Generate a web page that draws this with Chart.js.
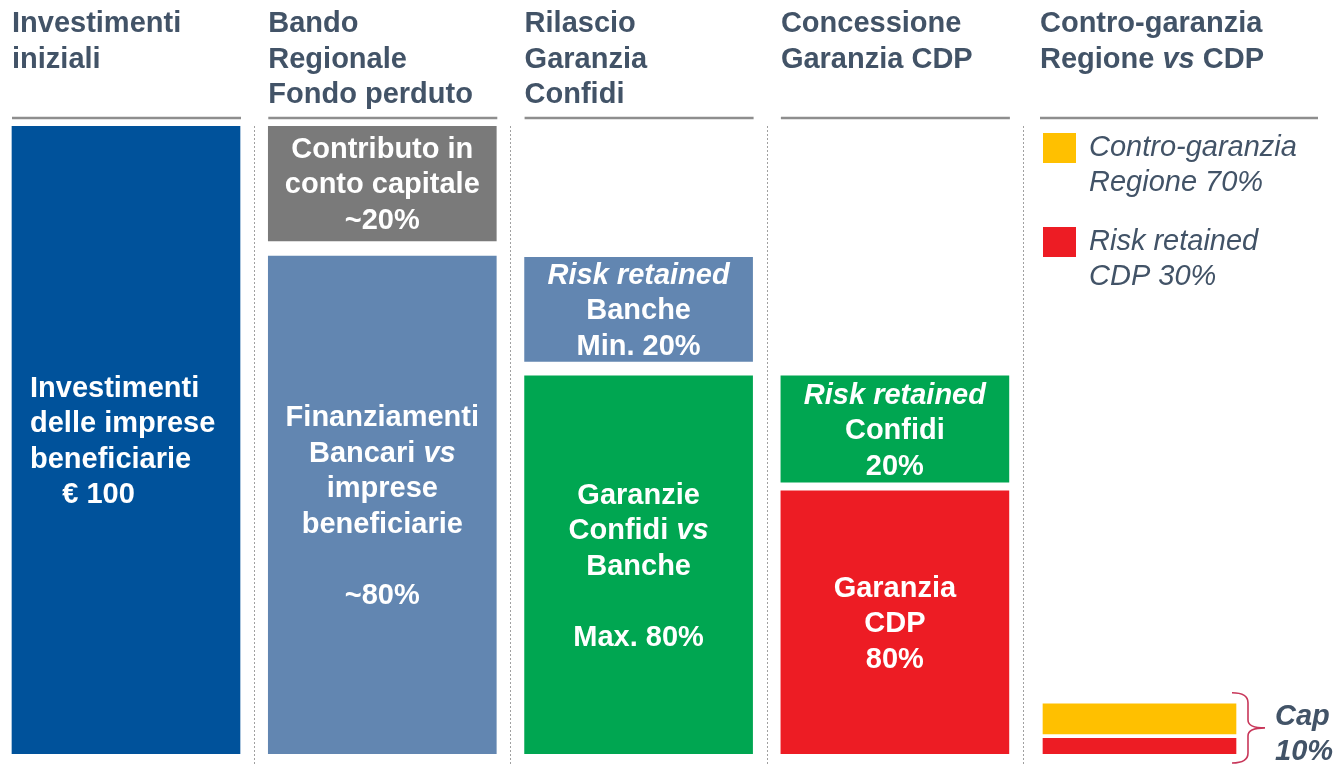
<!DOCTYPE html>
<html><head><meta charset="utf-8">
<script src="https://cdn.jsdelivr.net/npm/chart.js@4.4.1/dist/chart.umd.min.js"></script>
<style>html,body{margin:0;padding:0;background:#fff;overflow:hidden}#wrap{width:1337px;height:764px;position:relative}</style>
</head><body><div id="wrap"><canvas id="c" width="1337" height="764"></canvas></div>
<script>
// ---------- DATA ----------
const columnHeaders = [
  ['Investimenti', 'iniziali'],
  ['Bando', 'Regionale', 'Fondo perduto'],
  ['Rilascio', 'Garanzia', 'Confidi'],
  ['Concessione', 'Garanzia CDP'],
  ['Contro-garanzia', 'Regione *vs* CDP']
];
// floating bar ranges [from, to] on a 0-100 scale, per column index
const investimentiRange      = [0, 100];    // column 0
const contributoRange        = [81.7, 100]; // column 1
const finanziamentiRange     = [0, 79.3];   // column 1
const riskBancheRange        = [62.5, 79.1];// column 2
const garanzieConfidiRange   = [0, 60.2];   // column 2
const riskConfidiRange       = [43.3, 60.2];// column 3
const garanziaCdpRange       = [0, 41.9];   // column 3
const capRegioneRange        = [3.2, 8.0];  // column 4
const capCdpRange            = [0, 2.5];    // column 4

const investimentiText    = ['Investimenti', 'delle imprese', 'beneficiarie', '    € 100'];
const contributoText      = ['Contributo in', 'conto capitale', '~20%'];
const finanziamentiText   = ['Finanziamenti', 'Bancari *vs*', 'imprese', 'beneficiarie', '', '~80%'];
const riskBancheText      = ['*Risk retained*', 'Banche', 'Min. 20%'];
const garanzieConfidiText = ['Garanzie', 'Confidi *vs*', 'Banche', '', 'Max. 80%'];
const riskConfidiText     = ['*Risk retained*', 'Confidi', '20%'];
const garanziaCdpText     = ['Garanzia', 'CDP', '80%'];

const legendItems = [
  ['Contro-garanzia', 'Regione 70%'],
  ['Risk retained', 'CDP 30%']
];
const capText = ['Cap', '10%'];

// ---------- STYLE ----------
const FONT = '"Liberation Sans", Arial, sans-serif';
const TXT = '#425367';
const C_BLUE = '#00529B', C_LBLUE = '#6286B1', C_GREY = '#7A7A7A', C_GREEN = '#00A651', C_RED = '#ED1C24', C_YEL = '#FFC000';

function ds(label, col, range, color, text, opts) {
  return Object.assign({
    label, data: [{x: col, y: range}], backgroundColor: color, borderWidth: 0,
    barThickness: 228, grouped: false, xAxisID: 'x', labelLines: text, textAlign: 'center'
  }, opts || {});
}
const datasets = [
  ds('Investimenti', 0, investimentiRange, C_BLUE, investimentiText, {textAlign: 'left'}),
  ds('Contributo in conto capitale', 1, contributoRange, C_GREY, contributoText),
  ds('Finanziamenti Bancari', 1, finanziamentiRange, C_LBLUE, finanziamentiText),
  ds('Risk retained Banche', 2, riskBancheRange, C_LBLUE, riskBancheText),
  ds('Garanzie Confidi', 2, garanzieConfidiRange, C_GREEN, garanzieConfidiText),
  ds('Risk retained Confidi', 3, riskConfidiRange, C_GREEN, riskConfidiText),
  ds('Garanzia CDP', 3, garanziaCdpRange, C_RED, garanziaCdpText),
  ds('Contro-garanzia Regione', 4, capRegioneRange, C_YEL, null, {barThickness: 193, xAxisID: 'x2'}),
  ds('Risk retained CDP', 4, capCdpRange, C_RED, null, {barThickness: 193, xAxisID: 'x2'})
];

function parseRuns(line) {
  return line.split('*').map((t, i) => ({t, it: i % 2 === 1})).filter(r => r.t.length);
}
function drawRich(ctx, line, x, y, align, bold, italicAll) {
  const runs = parseRuns(line);
  const f = it => `${(it || italicAll) ? 'italic ' : ''}${bold ? 'bold ' : ''}29px ${FONT}`;
  let total = 0;
  runs.forEach(r => { ctx.font = f(r.it); r.w = ctx.measureText(r.t).width; total += r.w; });
  let cx = align === 'center' ? x - total / 2 : x;
  ctx.textAlign = 'left';
  runs.forEach(r => { ctx.font = f(r.it); ctx.fillText(r.t, cx, y); cx += r.w; });
}

const deco = {
  id: 'deco',
  afterDatasetsDraw(chart) {
    const ctx = chart.ctx, xs = chart.scales.x, x2 = chart.scales.x2, ys = chart.scales.y;
    ctx.save();
    ctx.textBaseline = 'alphabetic';
    // bar labels
    chart.data.datasets.forEach((d, di) => {
      if (!d.labelLines) return;
      const el = chart.getDatasetMeta(di).data[0];
      const p = el.getProps(['x', 'y', 'base', 'width'], true);
      const top = Math.min(p.y, p.base), bot = Math.max(p.y, p.base);
      const cy = (top + bot) / 2, n = d.labelLines.length, lh = 35.5;
      ctx.fillStyle = '#fff';
      d.labelLines.forEach((ln, i) => {
        if (!ln) return;
        const yy = cy + (i - (n - 1) / 2) * lh + 10;
        if (d.textAlign === 'left') drawRich(ctx, ln, p.x - p.width / 2 + 18, yy, 'left', true);
        else drawRich(ctx, ln, p.x, yy, 'center', true);
      });
    });
    // headers + underlines
    const w = 228;
    columnHeaders.forEach((lines, i) => {
      let left, right;
      if (i < 4) { const c = xs.getPixelForValue(i); left = c - w / 2; right = c + w / 2 + 1; }
      else { const c = x2.getPixelForValue(i); left = c - 193 / 2 - 3; right = left + 278; }
      ctx.fillStyle = TXT;
      lines.forEach((ln, k) => drawRich(ctx, ln, left, 32 + k * 35.5, 'left', true));
      ctx.strokeStyle = '#8E8E8E'; ctx.lineWidth = 2.5;
      ctx.beginPath(); ctx.moveTo(left, 118); ctx.lineTo(right, 118); ctx.stroke();
    });
    // dotted separators
    ctx.strokeStyle = '#A0A0A0'; ctx.lineWidth = 1; ctx.setLineDash([2, 2]);
    for (let i = 0; i < 4; i++) {
      const xx = Math.round(xs.getPixelForValue(i + 0.5)) + 0.5;
      ctx.beginPath(); ctx.moveTo(xx, ys.top); ctx.lineTo(xx, 764); ctx.stroke();
    }
    ctx.setLineDash([]);
    // legend
    const lx = x2.getPixelForValue(4) - 193 / 2;
    const legColors = [C_YEL, C_RED];
    legendItems.forEach((lines, i) => {
      const sy = 133 + i * 94;
      ctx.fillStyle = legColors[i]; ctx.fillRect(lx, sy, 33, 30);
      ctx.fillStyle = TXT;
      lines.forEach((ln, k) => drawRich(ctx, ln, lx + 46, sy + 23 + k * 35, 'left', false, true));
    });
    // brace + cap
    const bx = x2.getPixelForValue(4) + 193 / 2 - 4;
    const yTop = ys.getPixelForValue(capRegioneRange[1]) - 11, yBot = 763, ym = (yTop + yBot) / 2;
    ctx.strokeStyle = '#C8375A'; ctx.lineWidth = 1.6;
    ctx.beginPath();
    ctx.moveTo(bx, yTop);
    ctx.quadraticCurveTo(bx + 16, yTop, bx + 16, yTop + 10);
    ctx.lineTo(bx + 16, ym - 8);
    ctx.quadraticCurveTo(bx + 16, ym, bx + 33, ym);
    ctx.quadraticCurveTo(bx + 16, ym, bx + 16, ym + 8);
    ctx.lineTo(bx + 16, yBot - 10);
    ctx.quadraticCurveTo(bx + 16, yBot, bx, yBot);
    ctx.stroke();
    ctx.fillStyle = TXT;
    capText.forEach((ln, k) => drawRich(ctx, ln, bx + 43, 725 + k * 35, 'left', true, true));
    ctx.restore();
  }
};

new Chart(document.getElementById('c'), {
  type: 'bar',
  data: { datasets },
  options: {
    responsive: false, animation: false, devicePixelRatio: 1,
    layout: { padding: { top: 126, bottom: 10, left: 0, right: 0 } },
    plugins: { legend: { display: false }, tooltip: { enabled: false } },
    scales: {
      x:  { type: 'linear', display: false, offset: false, min: -0.4916, max: 4.7250, grid: {offset: false} },
      x2: { type: 'linear', display: false, offset: false, min: -0.4460, max: 4.7706, grid: {offset: false} },
      y:  { type: 'linear', display: false, min: 0, max: 100 }
    }
  },
  plugins: [deco]
});
</script></body></html>
